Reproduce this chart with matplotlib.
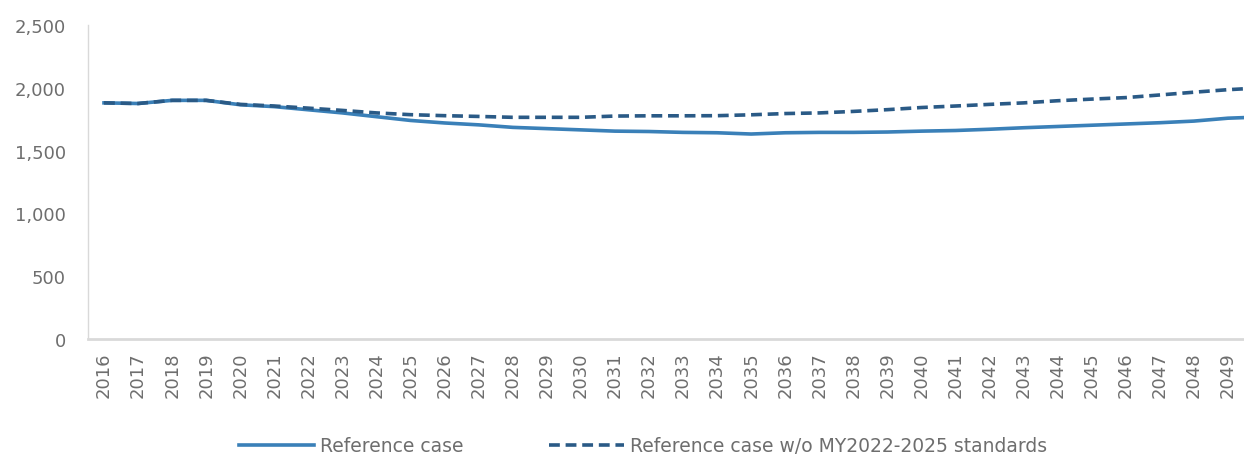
import matplotlib
matplotlib.use("Agg")
import matplotlib.pyplot as plt
from matplotlib.ticker import FuncFormatter

years = list(range(2016, 2051))
reference = [1880, 1875, 1900, 1900, 1865, 1850, 1825, 1800, 1770, 1740,
             1720, 1705, 1685, 1675, 1665, 1655, 1652, 1645, 1642, 1632,
             1642, 1645, 1645, 1648, 1655, 1660, 1670, 1682, 1692, 1702,
             1712, 1722, 1735, 1758, 1768]
no_standards = [1880, 1875, 1900, 1900, 1868, 1855, 1838, 1820, 1800, 1786,
                1778, 1772, 1765, 1765, 1765, 1775, 1777, 1777, 1778, 1785,
                1795, 1800, 1812, 1826, 1843, 1855, 1868, 1880, 1897, 1910,
                1922, 1943, 1965, 1985, 2000]
labels = ["Reference case", "Reference case w/o MY2022-2025 standards"]

plt.rcParams['font.family'] = ['DejaVu Sans']
grey = "#6e6e6e"

fig = plt.figure(figsize=(12.44, 4.56), dpi=100)
ax = fig.add_axes([88/1244, 1-340/456, 1-88/1244, (340-26)/456])

x = list(range(len(years)))
ax.plot(x, reference, color="#3a80b8", lw=2.6, label=labels[0])
ax.plot(x, no_standards, color="#2a5a86", lw=2.6, ls=(0, (3, 1.6)), label=labels[1])

ax.set_xlim(-0.47, (1244-104)/34.06)
ax.set_ylim(0, 2500)
ax.set_yticks(range(0, 2501, 500))
ax.yaxis.set_major_formatter(FuncFormatter(lambda v, p: f"{int(v):,}"))
ax.set_xticks(x[:-1])
ax.set_xticklabels([str(y) for y in years[:-1]], rotation=90)
ax.tick_params(axis='both', length=0, labelsize=13, labelcolor=grey)
ax.tick_params(axis='y', pad=16)
ax.tick_params(axis='x', pad=9)
for s in ['top', 'right']:
    ax.spines[s].set_visible(False)
ax.spines['left'].set_color("#d9d9d9")
ax.spines['left'].set_linewidth(1)
ax.spines['bottom'].set_color("#d9d9d9")
ax.spines['bottom'].set_linewidth(2)

leg = fig.legend(loc='center', bbox_to_anchor=(0.517, 0.02), ncol=2, frameon=False,
                 fontsize=13.5, handlelength=4.0, columnspacing=4.6, handletextpad=0.3)
for t in leg.get_texts():
    t.set_color(grey)

fig.savefig("out.png", dpi=100)
